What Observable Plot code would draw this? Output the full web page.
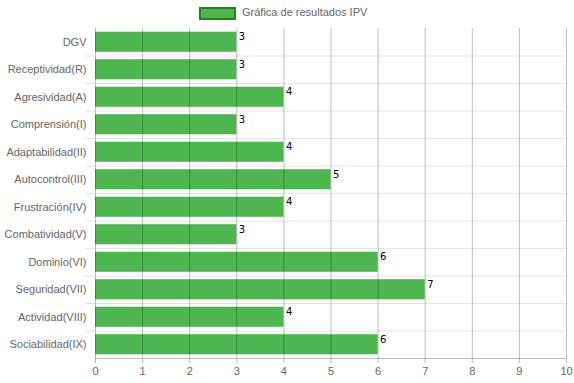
<!DOCTYPE html>
<html>
<head>
<meta charset="utf-8">
<script src="https://cdn.jsdelivr.net/npm/d3@7"></script>
<script src="https://cdn.jsdelivr.net/npm/@observablehq/plot@0.6"></script>
<style>
  html, body { margin: 0; padding: 0; background: #fff; }
  #legend { height: 26px; position: relative; font: 11px "Liberation Sans", Arial, sans-serif; color: #666; }
  #legend .box { position: absolute; left: 199px; top: 7px; width: 33px; height: 9px; background: #4db64f; border: 2px solid #178a17; }
  #legend .lbl { position: absolute; left: 242px; top: 6px; white-space: nowrap; }
</style>
</head>
<body>
<div id="legend"><span class="box"></span><span class="lbl">Gráfica de resultados IPV</span></div>
<div id="chart"></div>
<script>
const categories = ["DGV", "Receptividad(R)", "Agresividad(A)", "Comprensión(I)", "Adaptabilidad(II)", "Autocontrol(III)", "Frustración(IV)", "Combatividad(V)", "Dominio(VI)", "Seguridad(VII)", "Actividad(VIII)", "Sociabilidad(IX)"];
const values = [3, 3, 4, 3, 4, 5, 4, 3, 6, 7, 4, 6];
const xTicks = [0, 1, 2, 3, 4, 5, 6, 7, 8, 9, 10];

const data = categories.map((c, i) => ({category: c, value: values[i], i}));
const boundaries = d3.range(1, categories.length);
const centers = d3.range(categories.length).map(i => i + 0.5);
const pad = 0.135;

const chart = Plot.plot({
  width: 574,
  height: 357,
  marginTop: 2,
  marginBottom: 25,
  marginLeft: 95,
  marginRight: 8,
  style: {fontFamily: '"Liberation Sans", Arial, sans-serif', fontSize: "11px", color: "#666", background: "#fff"},
  x: {domain: [0, 10]},
  y: {domain: [0, categories.length], reverse: true},
  marks: [
    Plot.gridY(boundaries, {stroke: "#e6e6e6", strokeOpacity: 1}),
    Plot.axisY(boundaries, {tickSize: 10, stroke: "#e6e6e6", tickFormat: () => "", label: null}),
    Plot.axisY(centers, {tickSize: 0, tickPadding: 9, tickFormat: t => categories[Math.floor(t)], label: null, fill: "#666"}),
    Plot.rectX(data, {x1: 0, x2: "value", y1: d => d.i + pad, y2: d => d.i + 1 - pad, fill: "#4db64f"}),
    Plot.gridX(xTicks, {stroke: "#000", strokeOpacity: 0.25}),
    Plot.ruleY([categories.length], {stroke: "#000", strokeOpacity: 0.25}),
    Plot.axisX(xTicks, {tickSize: 5, tickPadding: 4, stroke: "#000", strokeOpacity: 0.25, label: null, fill: "#666", tickFormat: d3.format("d")}),
    Plot.text(data, {x: "value", y: d => d.i + pad, text: d => String(d.value), textAnchor: "start", lineAnchor: "top", dx: 2, dy: 1, fill: "#000", fontSize: 10, fontFamily: '"DejaVu Sans", sans-serif'})
  ]
});
document.getElementById("chart").appendChild(chart);
</script>
</body>
</html>
